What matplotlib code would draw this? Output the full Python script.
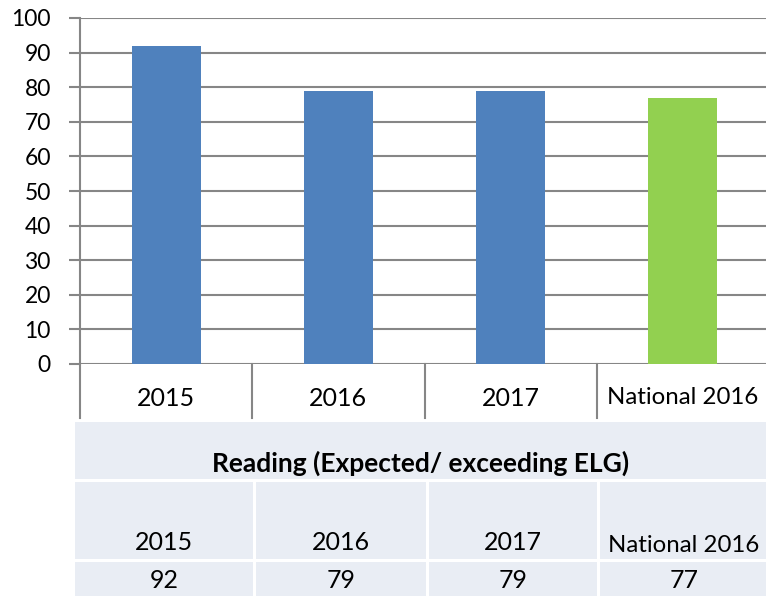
import matplotlib
matplotlib.use("Agg")
import matplotlib.pyplot as plt
from matplotlib.patches import Rectangle

categories = ["2015", "2016", "2017", "National 2016"]
values = [92, 79, 79, 77]
bar_colors = ["#4F81BD", "#4F81BD", "#4F81BD", "#92D050"]
yticks = list(range(0, 101, 10))
table_title = "Reading (Expected/ exceeding ELG)"

plt.rcParams['font.family'] = ['Lato', 'DejaVu Sans']

W, H = 766, 596
fig = plt.figure(figsize=(W / 100, H / 100), dpi=100)

# main chart axes (pixel geometry)
left, right, top, bottom = 80, 769, 18, 364
ax = fig.add_axes([left / W, 1 - bottom / H, (right - left) / W, (bottom - top) / H])
x = list(range(len(categories)))
ax.bar(x, values, width=0.4, color=bar_colors, zorder=3)
ax.set_xlim(-0.5, len(categories) - 0.5)
ax.set_ylim(0, 100)
ax.set_yticks(yticks)
ax.set_yticklabels([str(v) for v in yticks], fontsize=16.5)
ax.grid(axis='y', color='#868686', lw=1.5, zorder=0)
for s in ['top', 'right', 'bottom']:
    ax.spines[s].set_visible(False)
ax.spines['left'].set_color('#868686')
ax.spines['left'].set_linewidth(1.5)
ax.tick_params(axis='y', length=8, width=1.5, color='#868686', pad=13)
ax.set_xticks([])

axh = bottom - top
trans = ax.get_xaxis_transform()
for i, c in enumerate(categories):
    ax.text(i, -(398 - bottom) / axh, c, transform=trans, ha='center', va='center',
            fontsize=18 if i < 3 else 17.3)
for b in [-0.5, 0.5, 1.5, 2.5]:
    ax.plot([b, b], [0, -(418 - bottom) / axh], transform=trans, color='#868686', lw=1.5, clip_on=False)

# table
tax = fig.add_axes([0, 0, 1, 1])
tax.set_xlim(0, W)
tax.set_ylim(H, 0)
tax.axis('off')
bg = '#E9EDF4'
tax.add_patch(Rectangle((75, 422), 769 - 75, 479 - 422, color=bg, lw=0))
cols = [(75, 253), (256, 426), (429, 597), (600, 769)]
for (x0, x1) in cols:
    tax.add_patch(Rectangle((x0, 482), x1 - x0, 559 - 482, color=bg, lw=0))
    tax.add_patch(Rectangle((x0, 562), x1 - x0, 600 - 562, color=bg, lw=0))
tax.text(421, 463, table_title, ha='center', va='center', fontsize=19, fontweight='bold')
centers = [164, 341, 513, 684]
for i, (c, v) in enumerate(zip(categories, values)):
    tax.text(centers[i], 543 if i < 3 else 546, c, ha='center', va='center',
             fontsize=18 if i < 3 else 17.3)
    tax.text(centers[i], 580, str(v), ha='center', va='center', fontsize=18)

fig.savefig("out.png", dpi=100)
